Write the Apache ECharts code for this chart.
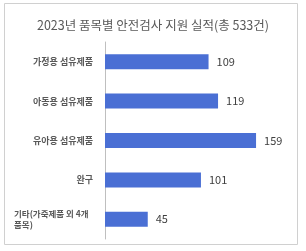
<!DOCTYPE html>
<html><head><meta charset="utf-8">
<script src="https://cdn.jsdelivr.net/npm/echarts@6/dist/echarts.min.js"></script>
<style>html,body{margin:0;padding:0;background:#fff}#c{width:306px;height:251px}</style>
</head><body><div id="c"></div>
<script>
const titleText = '2023년 품목별 안전검사 지원 실적(총 533건)';
const categories = ['가정용 섬유제품', '아동용 섬유제품', '유아용 섬유제품', '완구', '기타(가죽제품 외 4개 품목)'];
const values = [109, 119, 159, 101, 45];

const chart = echarts.init(document.getElementById('c'), null, {renderer: 'canvas'});
const FONT = '"Noto Sans CJK KR", "Noto Sans", sans-serif';
chart.setOption({
  animation: false,
  backgroundColor: '#fff',
  graphic: [{type: 'rect', shape: {x: 4.5, y: 3.5, width: 293, height: 241},
    style: {fill: 'none', stroke: '#d0d0d0', lineWidth: 1}, silent: true}],
  title: {text: titleText, left: 'center', top: 14,
    textStyle: {fontFamily: FONT, fontSize: 12.5, fontWeight: 'normal', color: '#595959'}},
  grid: {left: 105, right: 30, top: 42, bottom: 12, containLabel: false},
  xAxis: {type: 'value', min: 0, max: 180, show: false},
  yAxis: {type: 'category', data: categories, inverse: true,
    axisLine: {show: true, lineStyle: {color: '#bfbfbf'}},
    axisTick: {show: false},
    axisLabel: {margin: 12, fontFamily: FONT, fontSize: 9, fontWeight: 'bold', color: '#595959',
      formatter: function (v) {
        if (v.length > 10) {
          return '{l|기타(가죽제품 외 4개}\n{l|품목)}';
        }
        return v;
      },
      rich: {l: {width: 79, align: 'left', fontFamily: FONT, fontSize: 8.5, fontWeight: 'bold', color: '#595959', lineHeight: 11}}
    }
  },
  series: [{type: 'bar', data: values, barWidth: 15,
    itemStyle: {color: '#4a6fd4'},
    label: {show: true, position: 'right', distance: 8, fontFamily: FONT, fontSize: 11, color: '#404040'}
  }]
});
</script></body></html>
